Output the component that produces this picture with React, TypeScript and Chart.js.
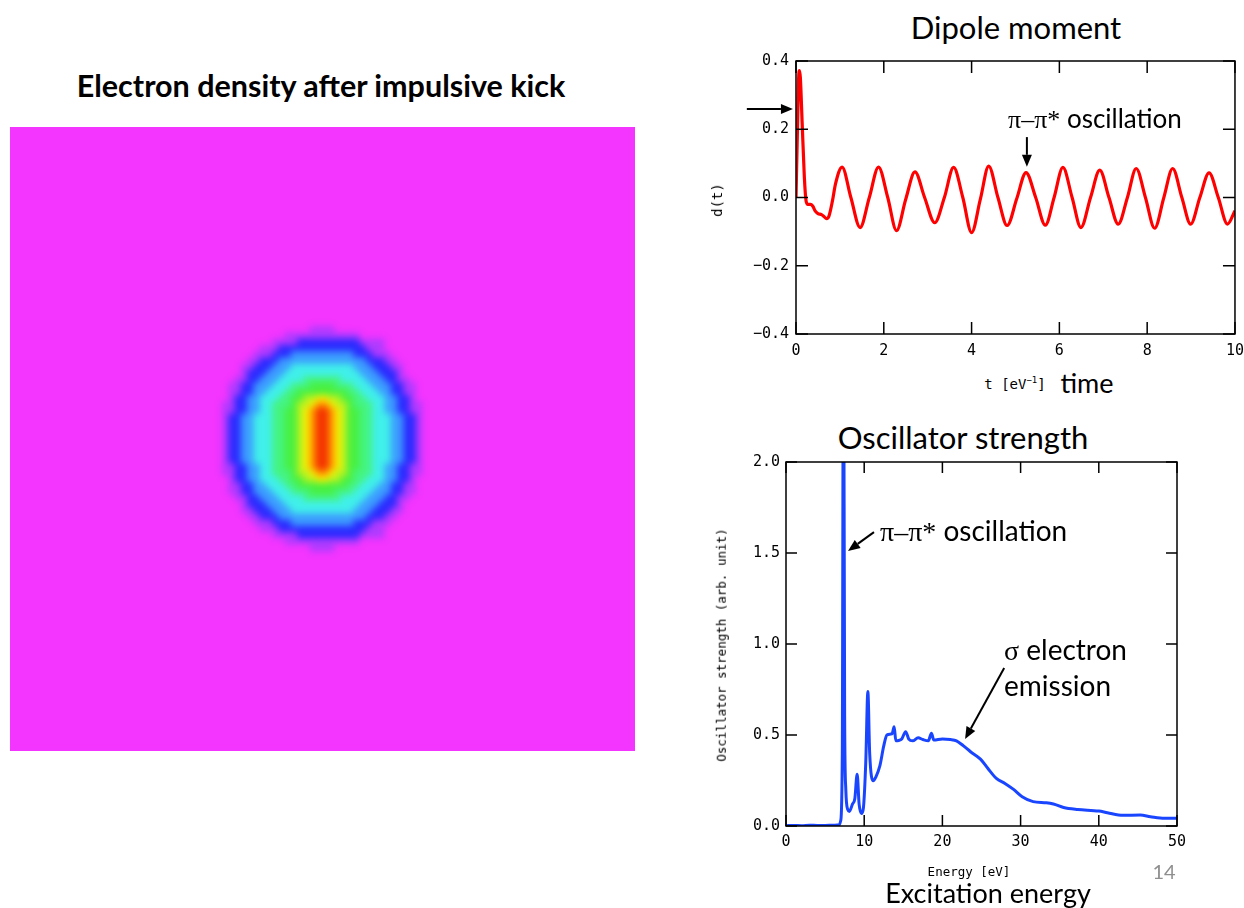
import React, { useEffect, useRef } from 'react';
import { Chart, registerables } from 'chart.js';

Chart.register(...registerables);

// ---------- Dipole moment d(t) ----------
const dipoleTime = [
  0, 0.03, 0.06, 0.08, 0.1, 0.14, 0.19, 0.23, 0.27, 0.33, 0.38, 0.44, 0.5, 0.58, 0.63, 0.7, 0.75, 0.83, 0.9,
  1.05, 1.25, 1.46, 1.67, 1.88, 2.09, 2.29, 2.5, 2.71, 2.93, 3.16, 3.38, 3.59, 3.8, 4.0, 4.2, 4.39, 4.6, 4.81,
  5.03, 5.24, 5.46, 5.68, 5.88, 6.08, 6.29, 6.49, 6.71, 6.92, 7.13, 7.34, 7.55, 7.75, 7.96, 8.17, 8.38, 8.58,
  8.79, 8.99, 9.2, 9.41, 9.62, 9.83, 10.0,
];
const dipoleValue = [
  0, 0.18, 0.35, 0.372, 0.35, 0.22, 0.06, -0.01, -0.02, -0.02, -0.025, -0.04, -0.047, -0.05, -0.055, -0.062, -0.055, -0.01, 0.04,
  0.089, 0.0, -0.088, 0.0, 0.089, 0.0, -0.097, -0.005, 0.075, 0.0, -0.074, 0.0, 0.088, 0.0, -0.103, -0.005, 0.092, 0.0, -0.082,
  -0.003, 0.073, 0.0, -0.081, 0.0, 0.088, 0.0, -0.088, 0.0, 0.08, 0.0, -0.078, 0.0, 0.085, 0.0, -0.09, 0.0, 0.085,
  0.0, -0.078, 0.0, 0.072, 0.0, -0.078, -0.039,
];
const dipoleXRange = [0, 10];
const dipoleXStep = 2;
const dipoleYRange = [-0.4, 0.4];
const dipoleYStep = 0.2;

// ---------- Oscillator strength ----------
const energy = [
  0, 1, 2, 3, 4, 5, 6, 6.8, 7.0, 7.2, 7.35, 7.5, 7.65, 7.9, 8.1, 8.5, 8.8, 9.1, 9.35, 9.65, 9.9, 10.2, 10.47, 10.7,
  11.15, 11.5, 12.0, 12.5, 12.9, 13.4, 13.6, 13.83, 14.05, 14.4, 14.8, 15.3, 15.7, 16.2, 16.9, 17.5, 18.2, 18.6,
  18.9, 20.0, 21.0, 21.8, 22.7, 23.6, 24.9, 25.8, 26.9, 28.0, 29.1, 30.2, 31.6, 33.3, 34.2, 35.5, 37.3, 40.0,
  41.1, 43.1, 45.3, 46.6, 48.4, 50,
];
const strength = [
  0.002, 0.003, 0.002, 0.004, 0.003, 0.003, 0.004, 0.006, 0.03, 0.4, 3.0, 0.6, 0.2, 0.09, 0.08, 0.12, 0.15, 0.285, 0.12, 0.068,
  0.1, 0.35, 0.739, 0.4, 0.248, 0.27, 0.33, 0.44, 0.5, 0.505, 0.51, 0.545, 0.468, 0.47, 0.478, 0.518, 0.478, 0.468, 0.485,
  0.475, 0.468, 0.51, 0.472, 0.478, 0.475, 0.468, 0.44, 0.408, 0.366, 0.317, 0.262, 0.234, 0.201, 0.161, 0.134, 0.128,
  0.121, 0.102, 0.091, 0.082, 0.073, 0.059, 0.06, 0.051, 0.042, 0.042,
];
const oscXRange = [0, 50];
const oscXStep = 10;
const oscYRange = [0, 2];
const oscYStep = 0.5;

// ---------- Electron density (colour level per cell, 0 = background) ----------
const gridSize = 100; // cells across the square image
const gridBleed = 1.92; // cells drawn past each edge (hidden by the frame)
const blobOrigin = [33, 32]; // first column / row of the level block below
const densityLevels = [
  '0000000000000001111000000000000000',
  '0000000000011111111111100000000000',
  '0000000001111222222222211110000000',
  '0000000111222222222222221110000000',
  '0000001112223333333333222111000000',
  '0000011222333333333333332221100000',
  '0000112223334444444444333222110000',
  '0000122233344444444444433322210000',
  '0001122333444455555544443332211000',
  '0011223334445556666555444333221100',
  '0011223344455666666665544433221100',
  '0012233444556677887766554443322100',
  '0112233445556778998776555443322110',
  '0112233445566789aa9876655443322110',
  '0122334445566789aa9876655444332210',
  '0122334445566789aa9876655444332210',
  '0122334445566789aa9876655444332210',
  '0122334445566789aa9876655444332210',
  '0122334445566789aa9876655444332210',
  '0122334445566789aa9876655444332210',
  '0122334445566789aa9876655444332210',
  '0122334445566789aa9876655444332210',
  '0112233445566789aa9876655443322110',
  '0112233445556778998776555443322110',
  '0012233444556677887766554443322100',
  '0011223344455666666665544433221100',
  '0011223334445556666555444333221100',
  '0001122333444455555544443332211000',
  '0000122233344444444444433322210000',
  '0000112223334444444444333222110000',
  '0000011222333333333333332221100000',
  '0000001112223333333333222111000000',
  '0000000111222222222222221110000000',
  '0000000001111222222222211110000000',
  '0000000000011111111111100000000000',
  '0000000000000001111000000000000000',
];
const levelColors: Record<string, string> = {
  '0': '#F434FF',
  '1': '#B03AFF',
  '2': '#2A2AFF',
  '3': '#3C9CFF',
  '4': '#40F0EA',
  '5': '#44F482',
  '6': '#48F040',
  '7': '#B8F220',
  '8': '#FAF000',
  '9': '#FF9200',
  a: '#F43200',
};

// ---------- annotation arrows (data coordinates) ----------
const dipoleArrows = [
  { x1: -1.12, y1: 0.259, x2: -0.07, y2: 0.259 },
  { x1: 5.26, y1: 0.177, x2: 5.26, y2: 0.09 },
];
const oscArrows = [
  { x1: 11.25, y1: 1.615, x2: 7.93, y2: 1.511 },
  { x1: 27.9, y1: 0.868, x2: 22.9, y2: 0.478 },
];

const MONO = "'DejaVu Sans Mono', 'Liberation Mono', monospace";
const SANS = "Lato, 'Open Sans', sans-serif";

function fmt(v: number) {
  const s = Math.abs(v) < 1e-9 ? '0.0' : v.toFixed(1);
  return s.replace('-', '\u2212');
}

const framePlugin = (tickLen: number) => ({
  id: 'frameTicks',
  afterDatasetsDraw(chart: any) {
    const { ctx, chartArea: a, scales } = chart;
    ctx.save();
    ctx.strokeStyle = '#000';
    ctx.lineWidth = 1.5;
    ctx.beginPath();
    scales.x.ticks.forEach((_t: any, i: number) => {
      const px = scales.x.getPixelForTick(i);
      ctx.moveTo(px, a.bottom);
      ctx.lineTo(px, a.bottom - tickLen);
      ctx.moveTo(px, a.top);
      ctx.lineTo(px, a.top + tickLen);
    });
    scales.y.ticks.forEach((_t: any, i: number) => {
      const py = scales.y.getPixelForTick(i);
      ctx.moveTo(a.left, py);
      ctx.lineTo(a.left + tickLen, py);
      ctx.moveTo(a.right, py);
      ctx.lineTo(a.right - tickLen, py);
    });
    ctx.stroke();
    ctx.strokeRect(a.left, a.top, a.right - a.left, a.bottom - a.top);
    ctx.restore();
  },
});

const arrowPlugin = (arrows: { x1: number; y1: number; x2: number; y2: number }[]) => ({
  id: 'arrows',
  afterDraw(chart: any) {
    const { ctx, scales } = chart;
    ctx.save();
    ctx.strokeStyle = '#000';
    ctx.fillStyle = '#000';
    ctx.lineWidth = 2;
    arrows.forEach((ar) => {
      const x1 = scales.x.getPixelForValue(ar.x1);
      const y1 = scales.y.getPixelForValue(ar.y1);
      const x2 = scales.x.getPixelForValue(ar.x2);
      const y2 = scales.y.getPixelForValue(ar.y2);
      const ang = Math.atan2(y2 - y1, x2 - x1);
      const hl = 12;
      const hw = 5;
      const bx = x2 - hl * Math.cos(ang);
      const by = y2 - hl * Math.sin(ang);
      ctx.beginPath();
      ctx.moveTo(x1, y1);
      ctx.lineTo(bx, by);
      ctx.stroke();
      ctx.beginPath();
      ctx.moveTo(x2, y2);
      ctx.lineTo(bx + hw * Math.sin(ang), by - hw * Math.cos(ang));
      ctx.lineTo(bx - hw * Math.sin(ang), by + hw * Math.cos(ang));
      ctx.closePath();
      ctx.fill();
    });
    ctx.restore();
  },
});

const heatBackground = {
  id: 'heatBackground',
  beforeDatasetsDraw(chart: any) {
    const { ctx, chartArea: a } = chart;
    ctx.save();
    ctx.fillStyle = levelColors['0'];
    ctx.fillRect(a.left, a.top, a.right - a.left, a.bottom - a.top);
    ctx.restore();
  },
};

function axisOpts(range: number[], step: number, opts: any) {
  return {
    type: 'linear',
    min: range[0],
    max: range[1],
    grid: { display: false, drawTicks: false },
    border: { display: false },
    ...opts,
    ticks: { stepSize: step, color: '#000', font: { family: MONO, size: 15 }, autoSkip: false, maxRotation: 0, ...opts.ticks },
  };
}

export default function App() {
  const heatRef = useRef<HTMLCanvasElement>(null);
  const dipRef = useRef<HTMLCanvasElement>(null);
  const oscRef = useRef<HTMLCanvasElement>(null);

  useEffect(() => {
    const charts: Chart[] = [];

    // heat map
    const cells: { x: number; y: number; v: string }[] = [];
    densityLevels.forEach((row, r) => {
      row.split('').forEach((v, c) => {
        cells.push({ x: blobOrigin[0] + c + 0.5, y: blobOrigin[1] + r + 0.5, v });
      });
    });
    charts.push(
      new Chart(heatRef.current!, {
        type: 'scatter',
        data: {
          datasets: [
            {
              data: cells as any,
              pointStyle: 'rect',
              borderWidth: 0,
              pointRadius: (ctx: any) => {
                const a = ctx.chart.chartArea;
                const cw = a ? (a.right - a.left) / (gridSize + 2 * gridBleed) : 6.25;
                return (cw + 0.8) / Math.SQRT2;
              },
              backgroundColor: (ctx: any) => levelColors[ctx.raw ? ctx.raw.v : '0'],
            } as any,
          ],
        },
        options: {
          animation: false,
          responsive: false,
          events: [],
          layout: { padding: 0, autoPadding: false },
          plugins: { legend: { display: false }, tooltip: { enabled: false } },
          scales: {
            x: { type: 'linear', min: -gridBleed, max: gridSize + gridBleed, display: false },
            y: { type: 'linear', min: -gridBleed, max: gridSize + gridBleed, reverse: true, display: false },
          },
        } as any,
        plugins: [heatBackground],
      })
    );

    // dipole
    charts.push(
      new Chart(dipRef.current!, {
        type: 'line',
        data: {
          datasets: [
            {
              data: dipoleTime.map((t, i) => ({ x: t, y: dipoleValue[i] })),
              borderColor: '#FF0000',
              borderWidth: 3.2,
              pointRadius: 0,
              cubicInterpolationMode: 'monotone',
              fill: false,
            } as any,
          ],
        },
        options: {
          animation: false,
          responsive: false,
          events: [],
          layout: { padding: { left: 0, right: 0, top: 16, bottom: 0 }, autoPadding: false },
          plugins: { legend: { display: false }, tooltip: { enabled: false } },
          scales: {
            x: axisOpts(dipoleXRange, dipoleXStep, {
              ticks: { padding: 8 },
              afterFit: (s: any) => {
                s.height = 26;
              },
            }),
            y: axisOpts(dipoleYRange, dipoleYStep, {
              ticks: { padding: 7, callback: (v: any) => fmt(Number(v)) },
              afterFit: (s: any) => {
                s.width = 96;
              },
            }),
          },
        } as any,
        plugins: [framePlugin(12), arrowPlugin(dipoleArrows)],
      })
    );

    // oscillator strength
    charts.push(
      new Chart(oscRef.current!, {
        type: 'line',
        data: {
          datasets: [
            {
              data: energy.map((e, i) => ({ x: e, y: strength[i] })),
              borderColor: '#1A45FF',
              borderWidth: 3,
              pointRadius: 0,
              cubicInterpolationMode: 'monotone',
              fill: false,
              clip: 0,
            } as any,
          ],
        },
        options: {
          animation: false,
          responsive: false,
          events: [],
          layout: { padding: { left: 0, right: 67, top: 17, bottom: 0 }, autoPadding: false },
          plugins: { legend: { display: false }, tooltip: { enabled: false } },
          scales: {
            x: axisOpts(oscXRange, oscXStep, {
              ticks: { padding: 7 },
              afterFit: (s: any) => {
                s.height = 39;
              },
            }),
            y: axisOpts(oscYRange, oscYStep, {
              ticks: { padding: 6, callback: (v: any) => fmt(Number(v)) },
              afterFit: (s: any) => {
                s.width = 86;
              },
            }),
          },
        } as any,
        plugins: [framePlugin(11), arrowPlugin(oscArrows)],
      })
    );

    return () => charts.forEach((c) => c.destroy());
  }, []);

  const abs = (x: number, y: number, extra: React.CSSProperties = {}): React.CSSProperties => ({
    position: 'absolute',
    left: x,
    top: y,
    whiteSpace: 'nowrap',
    lineHeight: 1,
    color: '#000',
    ...extra,
  });
  const center = 'translate(-50%, -50%)';
  const serif: React.CSSProperties = { fontFamily: "'Liberation Serif', 'DejaVu Serif', serif" };

  return (
    <div style={{ position: 'absolute', left: 0, top: 0, width: 1244, height: 908, background: '#fff', overflow: 'hidden', fontFamily: SANS }}>
      <div style={abs(321, 85, { transform: center, fontWeight: 700, fontSize: 30.5 })}>Electron density after impulsive kick</div>
      <div style={{ position: 'absolute', left: 10, top: 127, width: 625, height: 624, overflow: 'hidden' }}>
        <canvas
          ref={heatRef}
          width={649}
          height={648}
          style={{ position: 'absolute', left: -12, top: -12, width: 649, height: 648, filter: 'blur(3.5px)' }}
        />
      </div>

      <div style={abs(1016, 27, { transform: center, fontSize: 31 })}>Dipole moment</div>
      <canvas ref={dipRef} width={552} height={315} style={{ position: 'absolute', left: 700, top: 45, width: 552, height: 315 }} />
      <div style={abs(717, 200, { transform: 'translate(-50%, -50%) rotate(-90deg)', fontFamily: MONO, fontSize: 14 })}>d(t)</div>
      <div style={abs(1015, 383, { transform: center, fontFamily: MONO, fontSize: 14 })}>
        t [eV<sup style={{ fontSize: 9, verticalAlign: 6 }}>−1</sup>]
      </div>
      <div style={abs(1087, 382, { transform: center, fontSize: 27 })}>time</div>
      <div style={abs(1008, 119, { transform: 'translateY(-50%)', fontSize: 26 })}>
        <span style={serif}>π–π*</span> oscillation
      </div>

      <div style={abs(963, 437, { transform: center, fontSize: 31 })}>Oscillator strength</div>
      <canvas ref={oscRef} width={544} height={420} style={{ position: 'absolute', left: 700, top: 445, width: 544, height: 420 }} />
      <div style={abs(722, 645, { transform: 'translate(-50%, -50%) rotate(-90deg)', fontFamily: MONO, fontSize: 12.5 })}>
        Oscillator strength (arb. unit)
      </div>
      <div style={abs(969, 872, { transform: center, fontFamily: MONO, fontSize: 12.5 })}>Energy [eV]</div>
      <div style={abs(988, 892, { transform: center, fontSize: 27 })}>Excitation energy</div>
      <div style={abs(1164, 871, { transform: center, fontSize: 20, color: '#8f8f8f' })}>14</div>
      <div style={abs(880, 531, { transform: 'translateY(-50%)', fontSize: 28 })}>
        <span style={serif}>π–π*</span> oscillation
      </div>
      <div style={abs(1004, 650, { transform: 'translateY(-50%)', fontSize: 28 })}>
        <span style={serif}>σ</span> electron
      </div>
      <div style={abs(1004, 685, { transform: 'translateY(-50%)', fontSize: 28 })}>emission</div>
    </div>
  );
}
